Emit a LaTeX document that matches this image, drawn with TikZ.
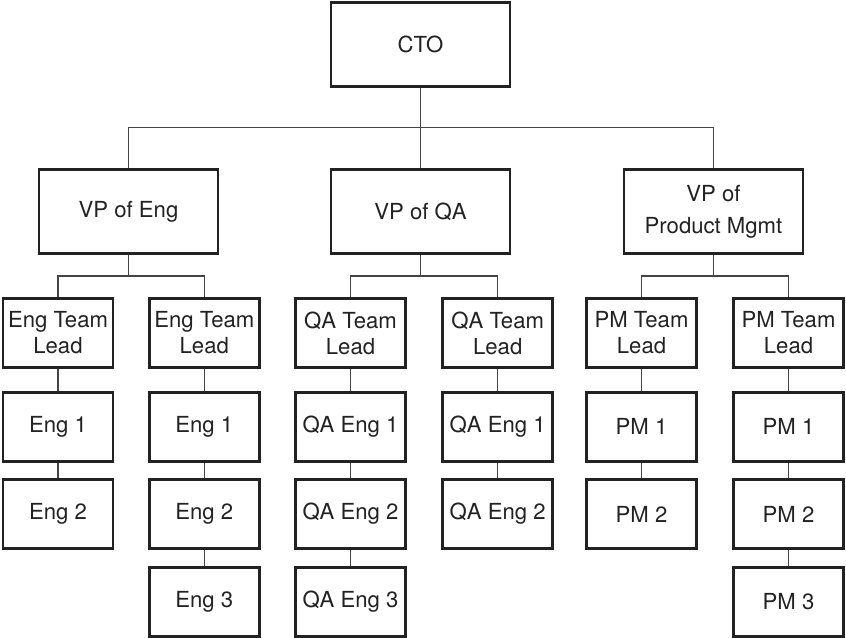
\documentclass[tikz,border=0pt]{standalone}
\usepackage{fontspec}
\setmainfont{TeX Gyre Heros}
\definecolor{ink}{HTML}{222222}
\definecolor{wire}{HTML}{444444}
\begin{document}
\begin{tikzpicture}[x=0.75pt,y=-0.75pt,
  box/.style={draw=ink,line width=2pt,text=ink,align=center,inner sep=0pt,
    font=\fontsize{16.6}{19.5}\selectfont},
  big/.style={box,minimum width=179*0.75pt,minimum height=84*0.75pt},
  small/.style={box,minimum width=110*0.75pt,minimum height=69*0.75pt},
  wireline/.style={draw=wire,line width=0.8pt}]
\useasboundingbox (0,0) rectangle (846,638);
% top levels
\node[big] (cto) at (420.5,44.5) {CTO};
\node[big] (vpe) at (128.5,211.5) {VP of Eng};
\node[big] (vpq) at (420.5,211.5) {VP of QA};
\node[big] (vpp) at (713.5,211.5) {VP of\\[4.5pt]Product Mgmt};
% team leads
\node[small] (tl1) at (58,333) {Eng Team\\Lead};
\node[small] (tl2) at (204.3,333) {Eng Team\\Lead};
\node[small] (tl3) at (350.5,333) {QA Team\\Lead};
\node[small] (tl4) at (497.7,333) {QA Team\\Lead};
\node[small] (tl5) at (641.5,333) {PM Team\\Lead};
\node[small] (tl6) at (788.5,333) {PM Team\\Lead};
% row 1
\node[small] (a1) at (58,426.7) {Eng 1};
\node[small] (b1) at (204.3,426.7) {Eng 1};
\node[small] (c1) at (350.5,426.7) {QA Eng 1};
\node[small] (d1) at (497.7,426.7) {QA Eng 1};
\node[small] (e1) at (641.5,426.7) {PM 1};
\node[small] (f1) at (788.5,426.7) {PM 1};
% row 2
\node[small] (a2) at (58,514) {Eng 2};
\node[small] (b2) at (204.3,514) {Eng 2};
\node[small] (c2) at (350.5,514) {QA Eng 2};
\node[small] (d2) at (497.7,514) {QA Eng 2};
\node[small] (e2) at (641.5,514) {PM 2};
\node[small] (f2) at (788.5,514) {PM 2};
% row 3
\node[small] (b3) at (204.3,601.7) {Eng 3};
\node[small] (c3) at (350.5,601.7) {QA Eng 3};
\node[small] (f3) at (788.5,601.7) {PM 3};
% junctions
\coordinate (j0) at (420.5,127.3);
\coordinate (je) at (128.5,276);
\coordinate (jq) at (420.5,276);
\coordinate (jp) at (713.5,276);
% connectors
\draw[wireline] (cto.south) -- (vpq.north);
\draw[wireline] (vpe.north) |- (j0) -| (vpp.north);
\draw[wireline] (vpe.south) -- (je);
\draw[wireline] (tl1.north) |- (je) -| (tl2.north);
\draw[wireline] (vpq.south) -- (jq);
\draw[wireline] (tl3.north) |- (jq) -| (tl4.north);
\draw[wireline] (vpp.south) -- (jp);
\draw[wireline] (tl5.north) |- (jp) -| (tl6.north);
\draw[wireline] (tl1) -- (a1); \draw[wireline] (a1) -- (a2);
\draw[wireline] (tl2) -- (b1); \draw[wireline] (b1) -- (b2); \draw[wireline] (b2) -- (b3);
\draw[wireline] (tl3) -- (c1); \draw[wireline] (c1) -- (c2); \draw[wireline] (c2) -- (c3);
\draw[wireline] (tl4) -- (d1); \draw[wireline] (d1) -- (d2);
\draw[wireline] (tl5) -- (e1); \draw[wireline] (e1) -- (e2);
\draw[wireline] (tl6) -- (f1); \draw[wireline] (f1) -- (f2); \draw[wireline] (f2) -- (f3);
\end{tikzpicture}
\end{document}
